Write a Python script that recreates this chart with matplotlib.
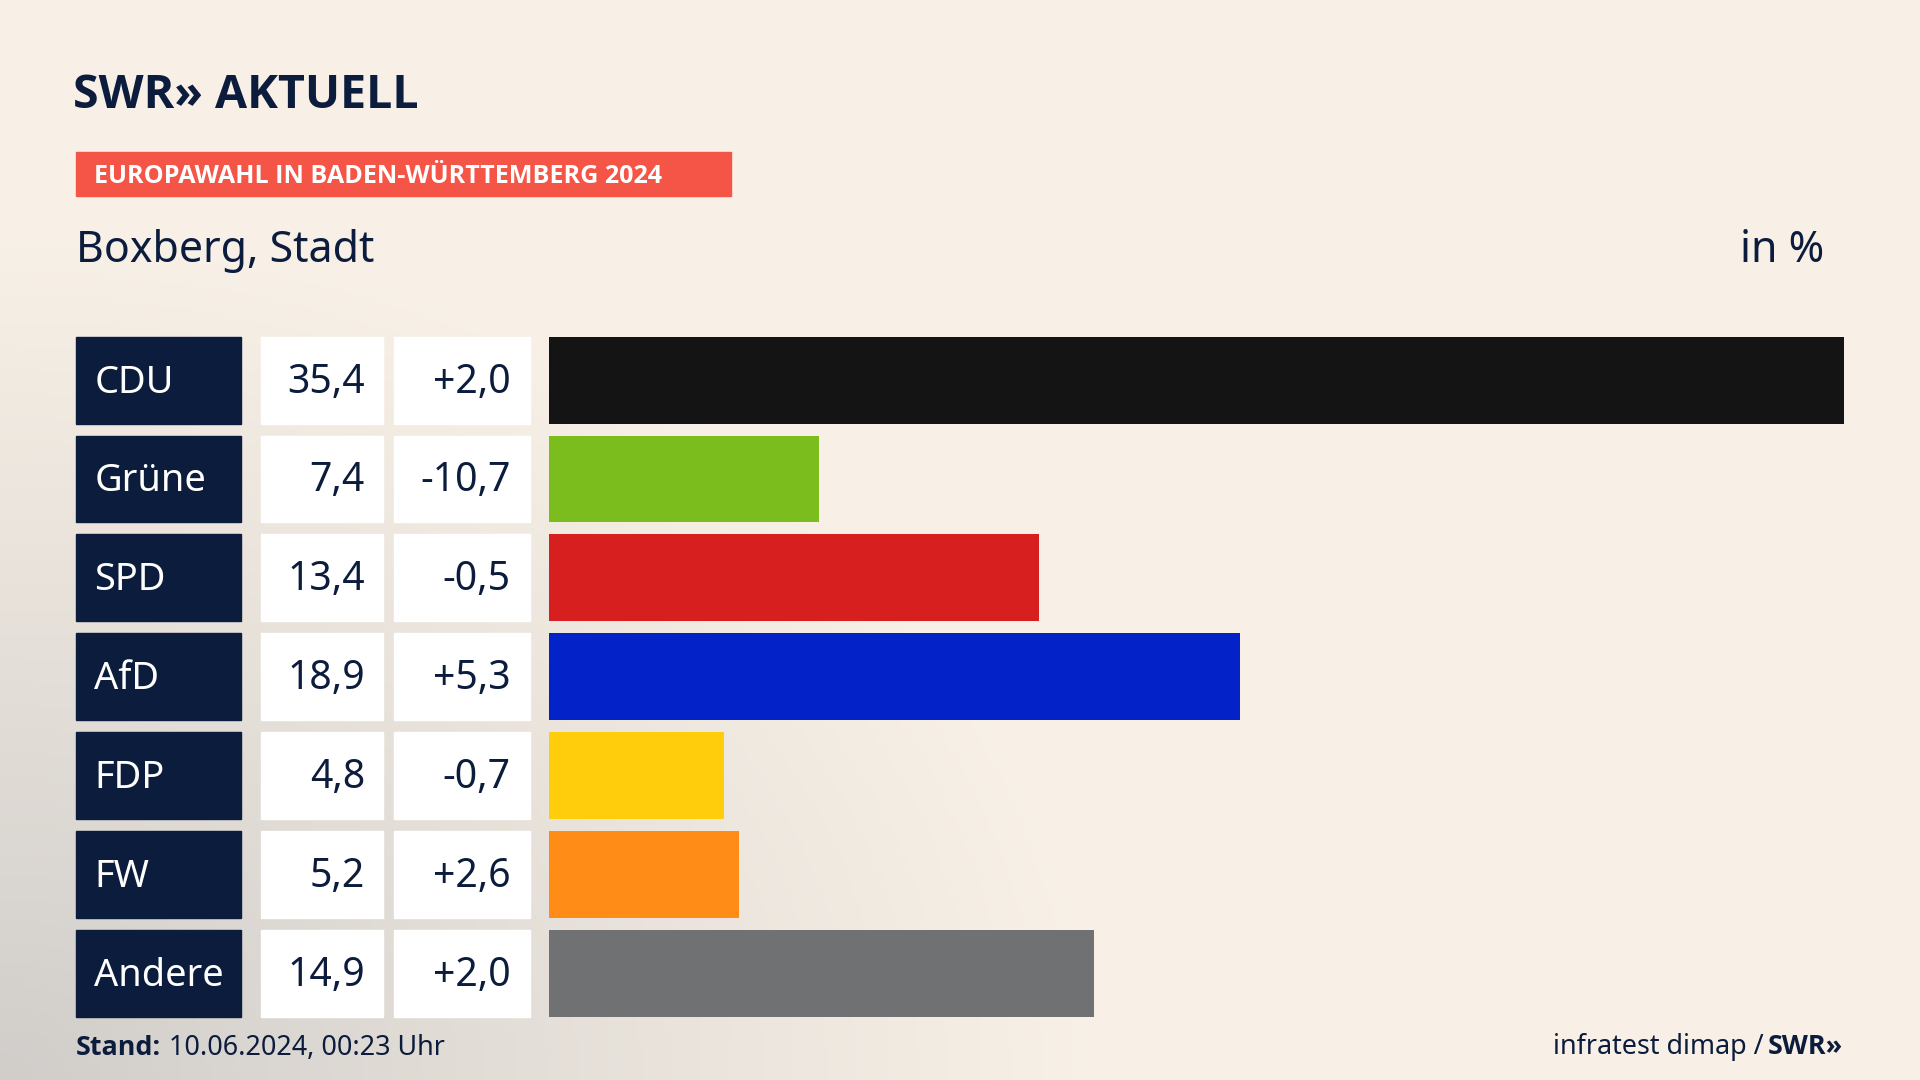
import matplotlib
matplotlib.use("Agg")
import matplotlib.pyplot as plt
import numpy as np
from matplotlib.patches import Rectangle

parties = ["CDU", "Grüne", "SPD", "AfD", "FDP", "FW", "Andere"]
values = [35.4, 7.4, 13.4, 18.9, 4.8, 5.2, 14.9]
changes = ["+2,0", "-10,7", "-0,5", "+5,3", "-0,7", "+2,6", "+2,0"]
colors = ["#141414", "#7abd1c", "#d81f1f", "#0322c8", "#ffcd0b", "#ff8c17", "#707172"]

W, H = 1568, 882
S = 1920 / W
def fs(px):
    return px * S * 0.72

NAVY = "#0c1c3c"
FONT = "Noto Sans"
BOLD = "Open Sans"

fig = plt.figure(figsize=(19.2, 10.8), dpi=100)
bg = fig.add_axes([0, 0, 1, 1])
bg.set_xlim(0, W); bg.set_ylim(H, 0); bg.axis("off")

yy, xx = np.mgrid[0:H:4, 0:W:4]
d = np.clip(1 - np.sqrt(((xx - 0) / 900.0) ** 2 + ((yy - H) / 700.0) ** 2), 0, 1)
base = np.array([0.975, 0.945, 0.905])
grey = np.array([0.80, 0.79, 0.78])
img = base[None, None, :] * (1 - d[..., None] * 0.9) + grey[None, None, :] * d[..., None] * 0.9
bg.imshow(img, extent=[0, W, H, 0], aspect="auto", zorder=0)

bg.text(60, 78, "SWR» AKTUELL", fontsize=fs(38), fontweight="bold", color=NAVY,
        family=BOLD, va="center", ha="left")
bg.add_patch(Rectangle((62, 124), 535, 36, color="#f45546", zorder=1))
bg.text(77, 144, "EUROPAWAHL IN BADEN-WÜRTTEMBERG 2024", fontsize=fs(20.5), fontweight="bold",
        color="white", family=BOLD, va="center", ha="left", zorder=2)
bg.text(62, 205, "Boxberg, Stadt", fontsize=fs(35), color=NAVY, family=FONT, va="center")
bg.text(1490, 205, "in %", fontsize=fs(35), color=NAVY, family=FONT, va="center", ha="right")

top, h, pitch = 275, 71, 80.7
for i, (p, v, c) in enumerate(zip(parties, values, changes)):
    y = top + i * pitch
    yc = y + h / 2 + 2
    bg.add_patch(Rectangle((62, y), 135, h, color=NAVY, zorder=1))
    bg.add_patch(Rectangle((213, y), 100, h, color="white", zorder=1))
    bg.add_patch(Rectangle((322, y), 111, h, color="white", zorder=1))
    bg.text(77, yc, p, fontsize=fs(31), color="white", family=FONT, va="center", zorder=2)
    bg.text(298, yc, f"{v:.1f}".replace(".", ","), fontsize=fs(32), color=NAVY,
            family=FONT, va="center", ha="right", zorder=2)
    bg.text(417, yc, c, fontsize=fs(32), color=NAVY, family=FONT, va="center",
            ha="right", zorder=2)

x0, x1 = 448, 1506
y_top, y_bot = top, top + 6 * pitch + h
ax = fig.add_axes([x0 / W, 1 - y_bot / H, (x1 - x0) / W, (y_bot - y_top) / H])
ax.set_xlim(0, max(values))
ax.set_ylim(6 * pitch + h, 0)
ax.axis("off")
ax.patch.set_alpha(0)
ypos = [i * pitch for i in range(len(parties))]
ax.barh(ypos, values, height=h, align="edge", color=colors)

bg.text(62, 856, "Stand:", fontsize=fs(22), fontweight="bold", color=NAVY, family=BOLD, va="center")
bg.text(138, 856, "10.06.2024, 00:23 Uhr", fontsize=fs(22), color=NAVY, family=FONT, va="center")
bg.text(1440, 855, "infratest dimap /", fontsize=fs(22), color=NAVY,
        family=FONT, va="center", ha="right")
bg.text(1505, 855, "SWR»", fontsize=fs(22), fontweight="bold", color=NAVY,
        family=BOLD, va="center", ha="right")

fig.savefig("out.png", dpi=100)
